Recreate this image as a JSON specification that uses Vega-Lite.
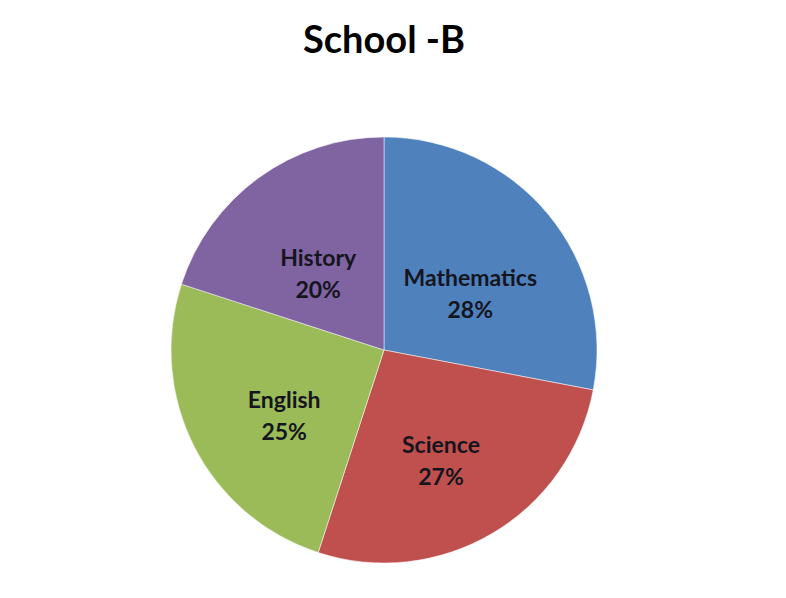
{
  "$schema": "https://vega.github.io/schema/vega-lite/v6.json",
  "width": 768,
  "height": 540,
  "autosize": "none",
  "padding": {"left": 0, "right": 18, "top": 80, "bottom": -22},
  "background": "white",
  "title": {
    "text": "School -B",
    "font": "Lato",
    "fontSize": 38,
    "fontWeight": "bold",
    "color": "#000000",
    "anchor": "middle",
    "offset": 19
  },
  "data": {
    "values": [
      {"subject": "Mathematics", "share": 28, "idx": 1},
      {"subject": "Science", "share": 27, "idx": 2},
      {"subject": "English", "share": 25, "idx": 3},
      {"subject": "History", "share": 20, "idx": 4}
    ]
  },
  "transform": [
    {"calculate": "[datum.subject, datum.share + '%']", "as": "label"}
  ],
  "encoding": {
    "theta": {"field": "share", "type": "quantitative", "stack": true},
    "order": {"field": "idx", "type": "ordinal"},
    "color": {
      "field": "subject",
      "type": "nominal",
      "legend": null,
      "scale": {
        "domain": ["Mathematics", "Science", "English", "History"],
        "range": ["#4f81bd", "#c0504d", "#9bbb59", "#8064a2"]
      }
    }
  },
  "layer": [
    {
      "mark": {"type": "arc", "outerRadius": 213, "stroke": "#ffffff", "strokeWidth": 0.5}
    },
    {
      "mark": {
        "type": "text",
        "radius": 112,
        "font": "Lato",
        "fontSize": 23,
        "fontWeight": "bold",
        "lineHeight": 32,
        "baseline": "middle"
      },
      "encoding": {
        "text": {"field": "label"},
        "color": {"value": "#151520"}
      }
    }
  ],
  "config": {"view": {"stroke": null}}
}
